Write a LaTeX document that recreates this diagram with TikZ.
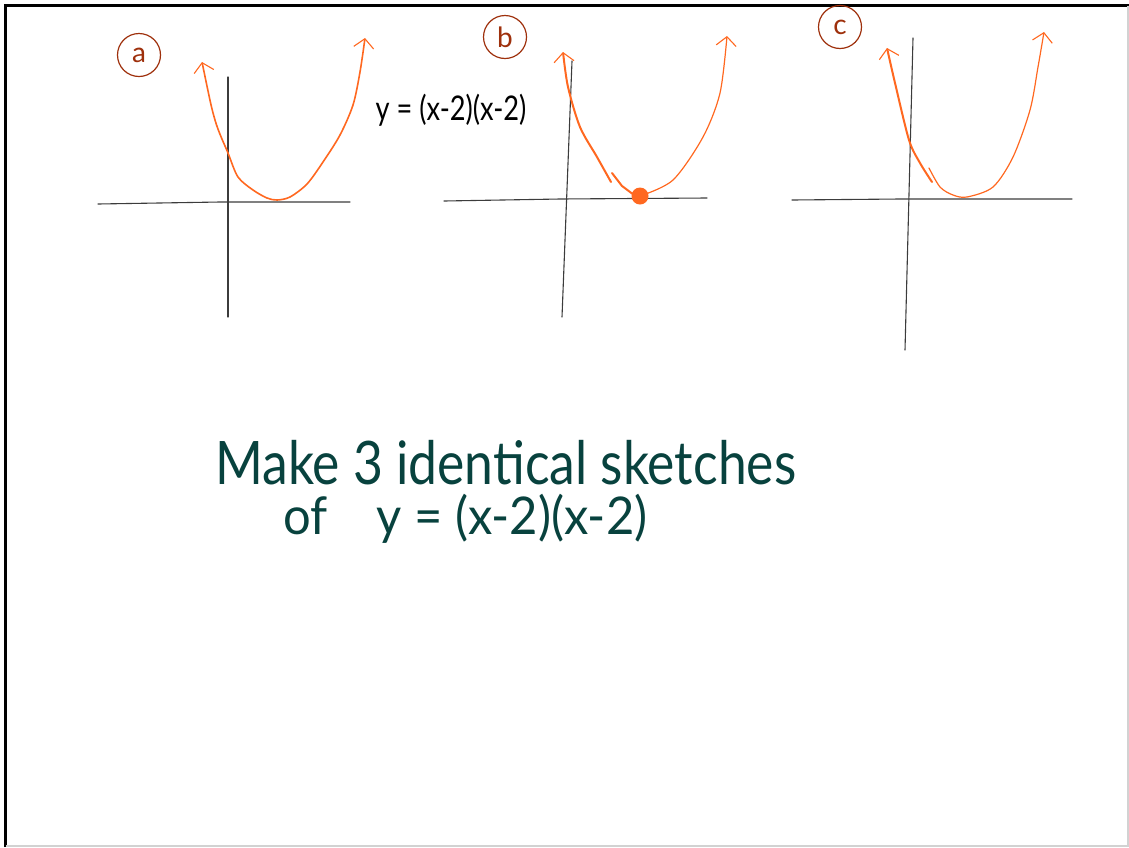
\documentclass[tikz,border=0pt]{standalone}
\usepackage{fontspec}
\setmainfont{Lato}
\usetikzlibrary{arrows.meta}
\definecolor{penorange}{RGB}{255,104,32}
\definecolor{penbrown}{RGB}{158,48,12}
\definecolor{penteal}{RGB}{8,66,62}
\definecolor{pengray}{RGB}{60,60,60}

\begin{document}
\begin{tikzpicture}[x=1pt,y=-1pt,
    axis/.style={pengray, line width=1.1pt, line cap=round},
    branch/.style={penorange, line width=2pt, line cap=round},
    thinbranch/.style={penorange, line width=1.2pt, line cap=round},
    tip/.style={-{Straight Barb[length=9pt,width=20pt,line width=1.1pt]}},
    tips/.style={{Straight Barb[length=9pt,width=20pt,line width=1.1pt]}-{Straight Barb[length=9pt,width=20pt,line width=1.1pt]}},
    tag/.style={circle, draw=penbrown, line width=1.2pt, text=penbrown,
      minimum size=43pt, inner sep=0pt, font=\fontsize{28}{28}\selectfont},
    words/.style={text=penteal, anchor=base west, inner sep=0pt}
  ]
  \useasboundingbox (0,0) rectangle (1129,847);

  % board frame
  \draw[line width=3pt] (5.5,847) -- (5.5,5.5) -- (1129,5.5);
  \draw[gray!35, line width=2pt] (1128,5.5) -- (1128,846) -- (5.5,846);

  % sketch a
  \draw[axis] (98,204) -- (220,202) -- (350,202);
  \draw[axis] (228,77) -- (228,317);
  \draw[thinbranch, line width=1.6pt, tips] plot[smooth] coordinates
    {(202,62) (215,120) (228,153) (238,177) (253,190) (267,198) (277,200)
     (290,197) (307,184) (323,162) (340,135) (353,105) (360,72) (365,38)};
  \node[tag] (taga) at (139,55) {a};

  % sketch b
  \draw[axis] (444,201) -- (560,199) -- (707,198);
  \draw[axis] (572,61) -- (562,317);
  \draw[branch, tip] plot[smooth] coordinates
    {(611,182) (597,157) (580,127) (568,87) (563,52)};
  \draw[branch] (612,173) -- (622,186) -- (634,195);
  \draw[thinbranch, tip] plot[smooth] coordinates
    {(640,196) (673,180) (703,137) (720,93) (727,36)};
  \fill[penorange] (640,196) circle (8.5pt);
  \node[tag] (tagb) at (505,37) {b};

  % sketch c
  \draw[axis] (792,200) -- (900,199) -- (1072,199);
  \draw[axis] (913,38) -- (905,350);
  \draw[branch, tip] plot[smooth] coordinates
    {(932,182) (920,163) (909,140) (895,83) (887,48)};
  \draw[thinbranch, tip] plot[smooth] coordinates
    {(929,168) (940,187) (953,195) (967,197) (993,187) (1013,157)
     (1030,110) (1038,67) (1044,32)};
  \node[tag] (tagc) at (840,27) {c};

  % equation by sketch a
  \node[inner sep=0pt] (eqtop) at (451,110)
    {\scalebox{0.8}[1]{\fontsize{34}{34}\selectfont y = (x-2)(x-2)}};

  % the task
  \node[words] (task) at (215,484)
    {\scalebox{0.86}[1]{\fontsize{60}{60}\selectfont Make 3 identical sketches}};
  \node[words] (taskeq) at (283,534)
    {\scalebox{0.94}[1]{\fontsize{52}{52}\selectfont of\quad y = (x-2)(x-2)}};
\end{tikzpicture}
\end{document}
